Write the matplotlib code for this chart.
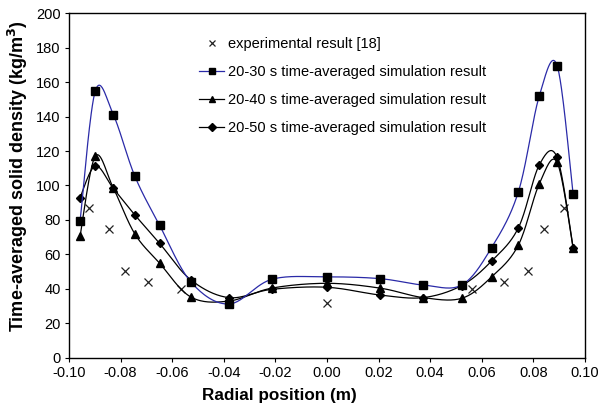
import numpy as np
import matplotlib
matplotlib.use("Agg")
import matplotlib.pyplot as plt
from matplotlib.lines import Line2D

plt.rcParams['font.family'] = ['Liberation Sans', 'DejaVu Sans']
plt.rcParams['axes.unicode_minus'] = False

# Experimental data
exp_x = [-0.0923, -0.0845, -0.0782, -0.0694, -0.0564, 0.0, 0.0562, 0.0687, 0.0780, 0.0843, 0.0918]
exp_y = [86.8, 74.6, 50.6, 43.9, 39.8, 31.7, 39.8, 43.9, 50.6, 74.6, 86.8]

# Simulation positions
sim_x = [-0.0957, -0.0898, -0.0828, -0.0745, -0.0649, -0.0527, -0.0380, -0.0214, 0.0,
         0.0206, 0.0373, 0.0522, 0.0638, 0.0742, 0.0823, 0.0892, 0.0954]
s30 = [79.4, 154.8, 141.0, 105.5, 77.0, 44.0, 31.3, 45.6, 47.0,
       46.0, 42.3, 42.3, 64.0, 96.4, 152.0, 169.5, 95.0]
s40 = [70.7, 117.0, 98.5, 72.0, 55.0, 35.3, 33.0, 40.5, 43.3,
       40.5, 35.0, 34.6, 47.0, 65.5, 101.0, 113.4, 63.6]
s50 = [93.0, 111.3, 98.3, 83.0, 66.5, 45.2, 35.0, 39.8, 41.0,
       36.5, 35.0, 42.0, 56.2, 75.5, 112.0, 116.3, 64.0]

labels = ['experimental result [18]',
          '20-30 s time-averaged simulation result',
          '20-40 s time-averaged simulation result',
          '20-50 s time-averaged simulation result']

xticks = [-0.10, -0.08, -0.06, -0.04, -0.02, 0.0, 0.02, 0.04, 0.06, 0.08, 0.10]
yticks = list(range(0, 201, 20))


def smooth(x, y, n=30):
    """Excel-like smoothed line via cubic Bezier segments."""
    P = np.column_stack([x, y]).astype(float)
    m = len(P)
    out = []
    for i in range(m - 1):
        p0 = P[i - 1] if i > 0 else P[i]
        p1 = P[i]
        p2 = P[i + 1]
        p3 = P[i + 2] if i + 2 < m else P[i + 1]
        c1 = p1 + (p2 - p0) / 6.0
        c2 = p2 - (p3 - p1) / 6.0
        t = np.linspace(0, 1, n, endpoint=(i == m - 2))[:, None]
        seg = ((1 - t) ** 3) * p1 + 3 * ((1 - t) ** 2) * t * c1 + 3 * (1 - t) * t ** 2 * c2 + t ** 3 * p2
        out.append(seg)
    out = np.vstack(out)
    return out[:, 0], out[:, 1]


fig = plt.figure(figsize=(6.04, 4.13), dpi=100)
ax = fig.add_axes([0.1142, 0.1332, 0.8543, 0.8353])

blue = '#2a2aa8'
lw = 0.9
xcol = '#222222'

ax.plot(exp_x, exp_y, linestyle='none', marker='x', color=xcol, markersize=5.5, markeredgewidth=0.9)

sx, sy = smooth(sim_x, s40)
ax.plot(sx, sy, color='black', lw=lw)
ax.plot(sim_x, s40, linestyle='none', marker='^', color='black', markersize=5.5)

sx, sy = smooth(sim_x, s50)
ax.plot(sx, sy, color='black', lw=lw)
ax.plot(sim_x, s50, linestyle='none', marker='D', color='black', markersize=4)

sx, sy = smooth(sim_x, s30)
ax.plot(sx, sy, color=blue, lw=lw)
ax.plot(sim_x, s30, linestyle='none', marker='s', color='black', markersize=5.5)

ax.set_xlim(-0.10, 0.10)
ax.set_ylim(0, 200)
ax.set_xticks(xticks)
ax.set_xticklabels([f"{v:.2f}" for v in xticks])
ax.set_yticks(yticks)
ax.tick_params(direction='out', length=3, width=0.8, labelsize=10.5, pad=3)
for sp in ax.spines.values():
    sp.set_linewidth(1.0)

ax.set_xlabel('Radial position (m)', fontsize=12.3, fontweight='bold')
ax.xaxis.set_label_coords(0.407, -0.087)
ax.set_ylabel('Time-averaged solid density (kg/m$^\\mathbf{3}$)', fontsize=13, fontweight='bold')
ax.yaxis.set_label_coords(-0.0756, 0.528)

handles = [
    Line2D([], [], linestyle='none', marker='x', color=xcol, markersize=5, markeredgewidth=0.9),
    Line2D([], [], color=blue, lw=lw, marker='s', markerfacecolor='black', markeredgecolor='black', markersize=5),
    Line2D([], [], color='black', lw=lw, marker='^', markersize=5),
    Line2D([], [], color='black', lw=lw, marker='D', markersize=3.8),
]
ax.legend(handles, labels, loc='upper left', bbox_to_anchor=(0.2525, 0.931), frameon=False,
          fontsize=10.5, handlelength=1.71, handletextpad=0.27, labelspacing=0.97, numpoints=1,
          borderaxespad=0, borderpad=0)

fig.savefig('out.png', dpi=100)
